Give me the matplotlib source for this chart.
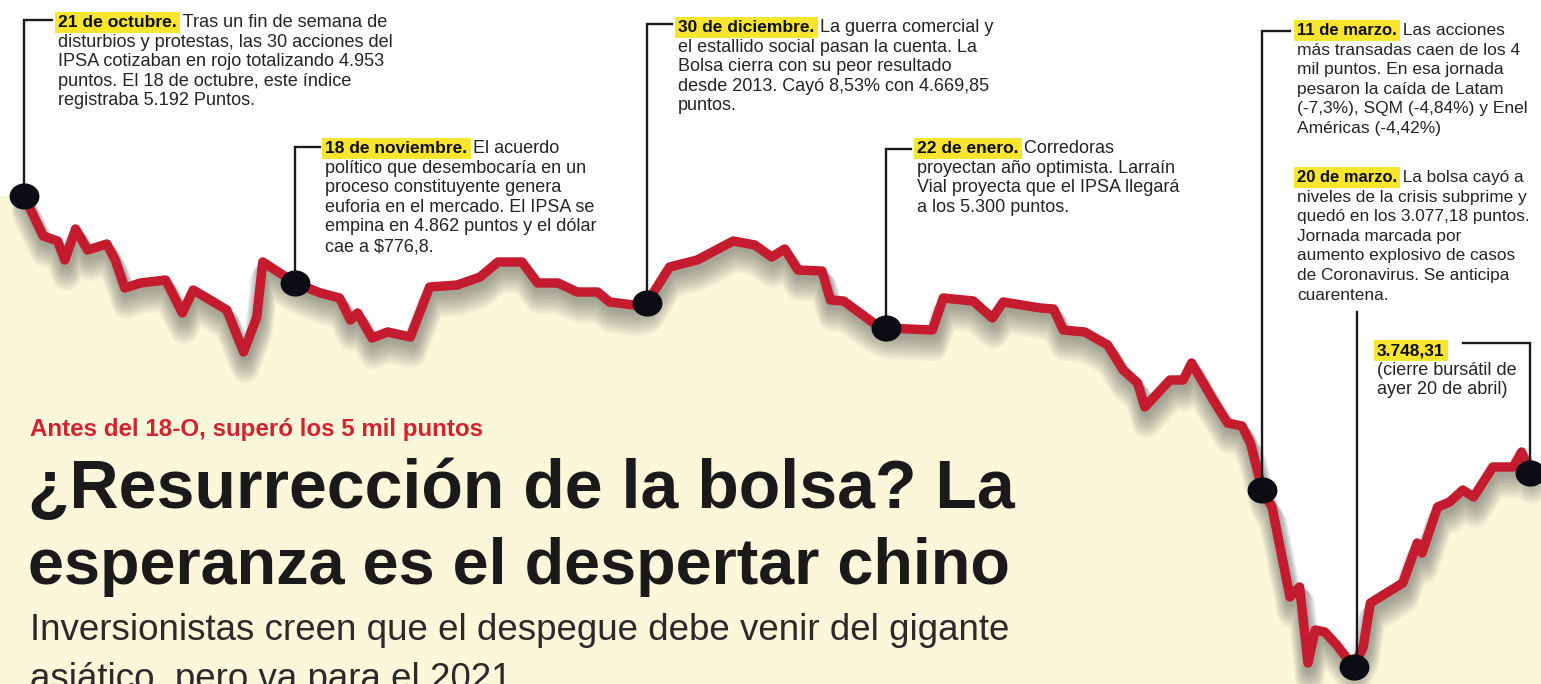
import matplotlib
matplotlib.use("Agg")
import matplotlib.pyplot as plt
import matplotlib.transforms as mtransforms
from matplotlib.lines import Line2D
from matplotlib.path import Path
from matplotlib.markers import MarkerStyle

# ---------------- data (read from the graphic) ----------------
# x: trading sessions since 21 Oct 2019, y: IPSA points (graphic is schematic)
sessions = [0, 1.6, 2.8, 3.4, 4.3, 5.3, 6.9, 7.6, 8.4, 9.7, 11.8, 13.2, 14.1, 15.8,
            16.9, 18.3, 19.4, 19.9, 22.6, 24.7, 26.3, 27.2, 27.8, 29.0, 30.3, 32.2,
            33.8, 36.1, 38.0, 39.5, 41.5, 42.8, 44.5, 46.1, 47.8, 48.8, 50.8, 51.9,
            53.8, 56.1, 59.1, 60.9, 62.3, 63.4, 64.5, 66.5, 67.2, 68.3, 70.8, 71.8,
            75.7, 76.6, 79.1, 80.7, 81.6, 84.7, 85.8, 86.6, 88.4, 90.3, 91.6, 92.8,
            93.4, 95.5, 96.6, 97.3, 99.1, 100.3, 101.5, 102.2, 103.2, 104.0, 105.5,
            106.3, 107.0, 107.6, 108.4, 109.4, 110.8, 111.6, 112.2, 113.0, 114.9,
            116.1, 116.5, 117.8, 118.8, 119.9, 120.8, 122.4, 124.1, 124.8, 125.5]
ipsa = [4953, 4793, 4773, 4697, 4821, 4737, 4761, 4697, 4585, 4605, 4617, 4485, 4577,
        4529, 4497, 4329, 4469, 4689, 4605, 4565, 4545, 4457, 4485, 4385, 4409, 4389,
        4589, 4597, 4629, 4689, 4689, 4605, 4605, 4569, 4569, 4529, 4517, 4525, 4669,
        4697, 4773, 4757, 4709, 4741, 4657, 4653, 4537, 4533, 4445, 4425, 4417, 4545,
        4533, 4465, 4529, 4505, 4501, 4417, 4409, 4357, 4257, 4205, 4109, 4217, 4217,
        4285, 4137, 4045, 4033, 3965, 3777, 3709, 3349, 3389, 3085, 3217, 3209, 3157,
        3069, 3149, 3325, 3349, 3405, 3565, 3525, 3709, 3729, 3777, 3749, 3869, 3869,
        3929, 3845]

# highlighted events (index into the series)
event_idx = [0, 18, 37, 49, 70, 78, 92]
event_dates = ["21 de octubre.", "18 de noviembre.", "30 de diciembre.", "22 de enero.",
               "11 de marzo.", "20 de marzo.", "3.748,31"]
event_first = [" Tras un fin de semana de", " El acuerdo", " La guerra comercial y",
               " Corredoras", " Las acciones", " La bolsa cayó a", ""]
event_body = [
    ["disturbios y protestas, las 30 acciones del", "IPSA cotizaban en rojo totalizando 4.953",
     "puntos. El 18 de octubre, este índice", "registraba 5.192 Puntos."],
    ["político que desembocaría en un", "proceso constituyente genera",
     "euforia en el mercado. El IPSA se", "empina en 4.862 puntos y el dólar", "cae a $776,8."],
    ["el estallido social pasan la cuenta. La", "Bolsa cierra con su peor resultado",
     "desde 2013. Cayó 8,53% con 4.669,85", "puntos."],
    ["proyectan año optimista. Larraín", "Vial proyecta que el IPSA llegará",
     "a los 5.300 puntos."],
    ["más transadas caen de los 4", "mil puntos. En esa jornada", "pesaron la caída de Latam",
     "(-7,3%), SQM (-4,84%) y Enel", "Américas (-4,42%)"],
    ["niveles de la crisis subprime y", "quedó en los 3.077,18 puntos.", "Jornada marcada por",
     "aumento explosivo de casos", "de Coronavirus. Se anticipa", "cuarentena."],
    ["(cierre bursátil de", "ayer 20 de abril)"],
]

kicker = "Antes del 18-O, superó los 5 mil puntos"
title_lines = ["¿Resurrección de la bolsa? La", "esperanza es el despertar chino"]
deck_lines = ["Inversionistas creen que el despegue debe venir del gigante",
              "asiático, pero va para el 2021"]

# ---------------- style ----------------
W, H = 1541, 684
CREAM = "#FAF7DA"
RED = "#C41C2E"
DOT = "#0c0c14"
YELLOW = "#F8E62E"
INK = "#1a1a1a"
BODY = "#242424"
FONT = "Liberation Sans"

fig = plt.figure(figsize=(W / 100, H / 100), dpi=100)
fig.patch.set_facecolor("white")
ax = fig.add_axes([0, 0, 1, 1])
ax.set_axis_off()
ax.set_xlim(-2, 126.4167)
ax.set_ylim(3001, 5737)

# pixel coordinates (origin top-left) for layout of texts / leaders
pix = mtransforms.Affine2D().scale(1 / W, -1 / H).translate(0, 1) + fig.transFigure

# cream area under the line, extended to the edges
x0, x1 = ax.get_xlim()
y_bottom = ax.get_ylim()[0]
xs_fill = [x0] + sessions + [x1]
ys_fill = [ipsa[0]] + ipsa + [ipsa[-1]]
ax.fill_between(xs_fill, ys_fill, y_bottom, color=CREAM, lw=0, zorder=1)

# soft drop shadow under the line
for k in range(11):
    dy = 4 + k * 1.3
    lw = (10 + k * 1.8) * 0.72
    tr = mtransforms.offset_copy(ax.transData, fig=fig, x=1.5, y=-dy, units="dots")
    ax.plot(sessions, ipsa, color="#555555", lw=lw, alpha=0.06, transform=tr,
            solid_joinstyle="round", solid_capstyle="round", zorder=2)

# red line
ax.plot(sessions, ipsa, color=RED, lw=6.8, solid_joinstyle="round",
        solid_capstyle="round", zorder=3)

# event dots (slightly elliptical)
ell = Path.unit_circle().transformed(mtransforms.Affine2D().scale(1.15, 1.0))
ex = [sessions[i] for i in event_idx]
ey = [ipsa[i] for i in event_idx]
ax.plot(ex, ey, linestyle="none", marker=MarkerStyle(ell), ms=20.5, color=DOT,
        mec=DOT, zorder=6)

renderer = fig.canvas.get_renderer()
to_pix = ax.transData + pix.inverted()

# layout of annotations (pixels): text x, first baseline, leader y, leader end x, font size
ann_layout = [
    (58, 27, 20, 52, 13.1),
    (325, 153, 147, 320, 13.0),
    (678, 32, 24, 672, 13.0),
    (917, 153, 149, 911, 13.0),
    (1297, 35, 31, 1290, 12.5),
    (1297, 182, None, None, 12.4),
    (1377, 355, 343, 1463, 13.0),
]
LS = 19.6

for k, (tx, base, ly, lx, fs) in enumerate(ann_layout):
    t = ax.text(tx, base, event_dates[k], transform=pix, fontsize=fs * 0.96,
                fontweight="bold", family=FONT, color="#0d0d0d", va="baseline",
                ha="left", zorder=8,
                bbox=dict(boxstyle="square,pad=0.2", fc=YELLOW, ec="none"))
    if event_first[k]:
        bb = t.get_window_extent(renderer=renderer)
        xr = pix.inverted().transform((bb.x1, bb.y0))[0]
        ax.text(xr + 1, base, event_first[k], transform=pix, fontsize=fs, family=FONT,
                color=BODY, va="baseline", ha="left", zorder=8)
    for j, line in enumerate(event_body[k]):
        ax.text(tx, base + (j + 1) * LS, line, transform=pix, fontsize=fs, family=FONT,
                color=BODY, va="baseline", ha="left", zorder=8)
    # leader
    dx, dyp = to_pix.transform((sessions[event_idx[k]], ipsa[event_idx[k]]))
    if ly is None:
        xs, ys = [dx + 3, dx + 3], [312, dyp]
    else:
        xs, ys = [lx, dx, dx], [ly, ly, dyp]
    ax.add_line(Line2D(xs, ys, transform=pix, color="#1a1a1a", lw=1.7, zorder=5,
                       solid_joinstyle="miter"))


def fit(txt, target):
    bb = txt.get_window_extent(renderer=renderer)
    txt.set_fontsize(txt.get_fontsize() * target / bb.width)


# headline block
k_t = ax.text(30, 436, kicker, transform=pix, fontsize=20, fontweight="bold", family=FONT,
              color="#D2222E", va="baseline", zorder=8)
fit(k_t, 452)

t1 = ax.text(28, 508, title_lines[0], transform=pix, fontsize=48, fontweight="bold",
             family=FONT, color=INK, va="baseline", zorder=8)
t2 = ax.text(28, 584, title_lines[1], transform=pix, fontsize=48, fontweight="bold",
             family=FONT, color=INK, va="baseline", zorder=8)
fit(t1, 985)
fit(t2, 982)

d1 = ax.text(30, 640, deck_lines[0], transform=pix, fontsize=26, family=FONT,
             color="#2a2a2a", va="baseline", zorder=8)
fit(d1, 980)
d2 = ax.text(30, 689, deck_lines[1], transform=pix, fontsize=d1.get_fontsize(),
             family=FONT, color="#2a2a2a", va="baseline", zorder=8)

fig.savefig("out.png", dpi=100, facecolor="white")
